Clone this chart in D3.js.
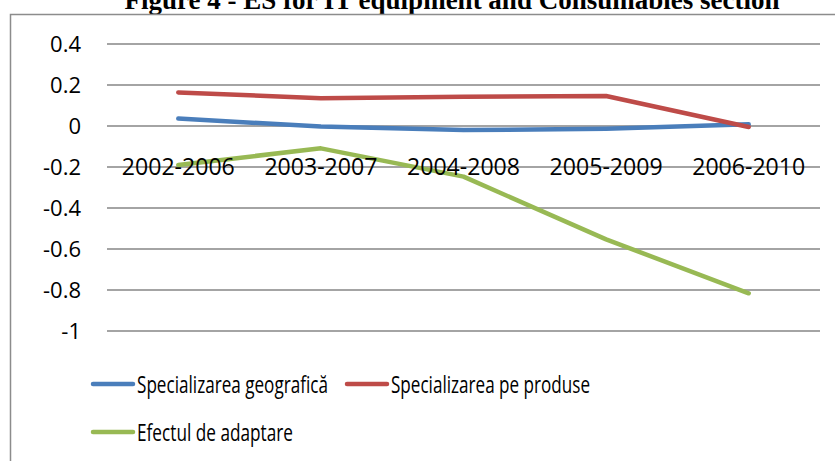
<!DOCTYPE html>
<html>
<head>
<meta charset="utf-8">
<script src="https://cdn.jsdelivr.net/npm/d3@7"></script>
<style>
  body { margin: 0; background: #fff; }
  svg { display: block; }
  text { font-family: "Liberation Sans Narrow", "Open Sans", sans-serif; }
</style>
</head>
<body>
<svg id="chart" width="835" height="461"></svg>
<script>
// chart values
var periods = ['2002-2006', '2003-2007', '2004-2008', '2005-2009', '2006-2010'];
var geografica = [0.036, -0.003, -0.02, -0.013, 0.008];
var produse = [0.164, 0.135, 0.143, 0.146, -0.005];
var adaptare = [-0.19, -0.109, -0.247, -0.553, -0.816];
var yTicks = [0.4, 0.2, 0, -0.2, -0.4, -0.6, -0.8, -1];
var seriesNames = ['Specializarea geografică', 'Specializarea pe produse', 'Efectul de adaptare'];
var seriesColors = ['#4a7ebb', '#be4b48', '#98b954'];

var series = [geografica, produse, adaptare].map(function(vals, i) {
    return { name: seriesNames[i], color: seriesColors[i], values: vals };
});

var svg = d3.select('#chart');

// title, clipped by the top of the page like in the picture
svg.append('text')
    .attr('x', 452)
    .attr('y', 9)
    .attr('text-anchor', 'middle')
    .style('font-family', '"Liberation Serif", "Times New Roman", serif')
    .style('font-weight', 'bold')
    .style('font-size', '27px')
    .text('Figure 4 - ES for IT equipment and Consumables section');

// chart frame
svg.append('path')
    .attr('d', 'M10.5,461 L10.5,14.5 L835,14.5')
    .attr('fill', 'none')
    .attr('stroke', '#8c8c8c')
    .attr('stroke-width', 1.5);

var x = d3.scaleBand().domain(periods).range([107, 820]);
var y = d3.scaleLinear().domain([-1, 0.4]).range([331, 44]);

// gridlines
svg.selectAll('.grid').data(yTicks).enter().append('line')
    .attr('class', 'grid')
    .attr('x1', 107).attr('x2', 820)
    .attr('y1', function(d) { return y(d); })
    .attr('y2', function(d) { return y(d); })
    .attr('stroke', '#868686')
    .attr('stroke-width', 1.5);

// y labels
svg.selectAll('.ylab').data(yTicks).enter().append('text')
    .attr('class', 'ylab')
    .attr('x', 81)
    .attr('y', function(d) { return y(d); })
    .attr('dy', '0.36em')
    .attr('text-anchor', 'end')
    .style('font-size', '22px')
    .text(function(d) { return String(d); });

// lines
var line = d3.line()
    .x(function(d, i) { return x(periods[i]) + x.bandwidth() / 2; })
    .y(function(d) { return y(d); });

svg.selectAll('.series').data(series).enter().append('path')
    .attr('class', 'series')
    .attr('d', function(d) { return line(d.values); })
    .attr('fill', 'none')
    .attr('stroke', function(d) { return d.color; })
    .attr('stroke-width', 4.5)
    .attr('stroke-linecap', 'round')
    .attr('stroke-linejoin', 'round');

// category labels sit on the -0.2 gridline like the picture
svg.selectAll('.xlab').data(periods).enter().append('text')
    .attr('class', 'xlab')
    .attr('x', function(d) { return x(d) + x.bandwidth() / 2; })
    .attr('y', y(-0.2))
    .attr('dy', '0.36em')
    .attr('text-anchor', 'middle')
    .attr('textLength', 113)
    .attr('lengthAdjust', 'spacingAndGlyphs')
    .style('font-size', '23px')
    .text(function(d) { return d; });

// legend
var legendPos = [[93, 384], [347, 384], [93, 432]];
var legendWidths = [191, 199, 156];
var legend = svg.selectAll('.legend').data(series).enter().append('g')
    .attr('class', 'legend')
    .attr('transform', function(d, i) { return 'translate(' + legendPos[i][0] + ',' + legendPos[i][1] + ')'; });

legend.append('line')
    .attr('x1', 0).attr('x2', 40)
    .attr('stroke', function(d) { return d.color; })
    .attr('stroke-width', 4.5)
    .attr('stroke-linecap', 'round');

legend.append('text')
    .attr('x', 44)
    .attr('dy', '0.36em')
    .attr('textLength', function(d, i) { return legendWidths[i]; })
    .attr('lengthAdjust', 'spacingAndGlyphs')
    .style('font-size', '24px')
    .text(function(d) { return d.name; });
</script>
</body>
</html>
